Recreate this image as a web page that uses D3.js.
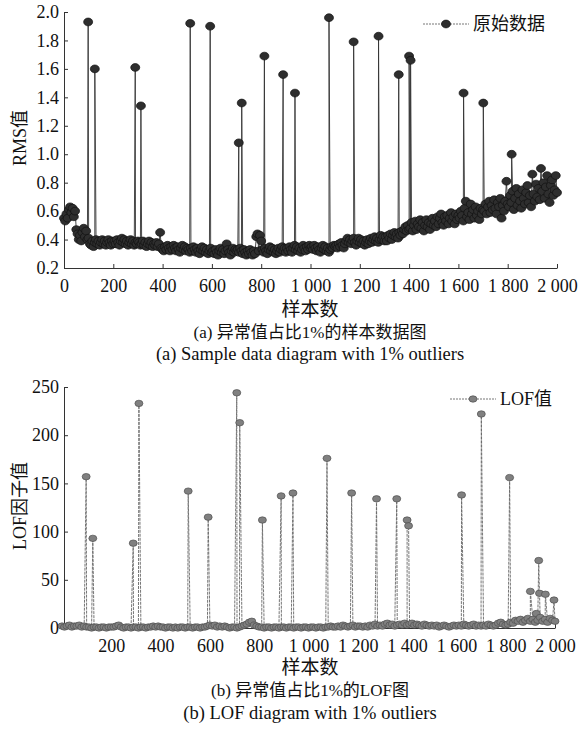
<!DOCTYPE html>
<html>
<head>
<meta charset="utf-8">
<script src="https://cdn.jsdelivr.net/npm/d3@7"></script>
<style>
  body { margin: 0; background: #fff; }
  svg { display: block; }
  text { font-family: "Liberation Serif", "Noto Sans CJK SC", serif; fill: #111; }
</style>
</head>
<body>
<svg id="chart" width="578" height="730"></svg>
<script>
// sample spacing of the base arrays
var rmsStep = 5,
    lofStep = 10;

// RMS values, one every 5 samples (0..2000), one row per 100 samples
var rmsBase = [0.55,
  0.53, 0.58, 0.55, 0.61, 0.63, 0.59, 0.62, 0.56, 0.60, 0.47, 0.44, 0.40, 0.43, 0.39, 0.45, 0.48, 0.42, 0.46, 0.40, 0.41,
  0.37, 0.36, 0.39, 0.35, 0.38, 0.40, 0.37, 0.39, 0.36, 0.38, 0.40, 0.37, 0.39, 0.36, 0.38, 0.40, 0.38, 0.36, 0.39, 0.37,
  0.39, 0.37, 0.40, 0.38, 0.36, 0.39, 0.41, 0.38, 0.40, 0.37, 0.39, 0.36, 0.38, 0.40, 0.37, 0.39, 0.36, 0.38, 0.37, 0.39,
  0.38, 0.36, 0.37, 0.39, 0.36, 0.38, 0.35, 0.37, 0.39, 0.36, 0.38, 0.35, 0.37, 0.36, 0.38, 0.35, 0.37, 0.45, 0.34, 0.33,
  0.32, 0.35, 0.33, 0.36, 0.34, 0.32, 0.35, 0.33, 0.36, 0.34, 0.32, 0.35, 0.33, 0.31, 0.34, 0.36, 0.33, 0.35, 0.32, 0.34,
  0.33, 0.31, 0.34, 0.32, 0.35, 0.33, 0.31, 0.34, 0.32, 0.30, 0.33, 0.35, 0.32, 0.34, 0.31, 0.33, 0.30, 0.32, 0.34, 0.31,
  0.32, 0.30, 0.33, 0.31, 0.29, 0.32, 0.34, 0.31, 0.33, 0.30, 0.32, 0.37, 0.33, 0.31, 0.29, 0.32, 0.34, 0.31, 0.33, 0.32,
  0.33, 0.31, 0.34, 0.32, 0.30, 0.33, 0.31, 0.29, 0.32, 0.30, 0.33, 0.31, 0.29, 0.32, 0.30, 0.42, 0.44, 0.32, 0.43, 0.39,
  0.33, 0.31, 0.34, 0.32, 0.30, 0.33, 0.35, 0.32, 0.34, 0.31, 0.33, 0.30, 0.32, 0.34, 0.31, 0.33, 0.35, 0.32, 0.34, 0.31,
  0.34, 0.32, 0.35, 0.33, 0.31, 0.34, 0.36, 0.33, 0.35, 0.32, 0.34, 0.31, 0.33, 0.36, 0.34, 0.32, 0.35, 0.33, 0.36, 0.34,
  0.35, 0.33, 0.36, 0.34, 0.32, 0.35, 0.33, 0.31, 0.34, 0.36, 0.33, 0.35, 0.32, 0.34, 0.31, 0.33, 0.35, 0.34, 0.36, 0.35,
  0.36, 0.34, 0.37, 0.35, 0.38, 0.36, 0.34, 0.37, 0.39, 0.41, 0.38, 0.40, 0.37, 0.39, 0.41, 0.38, 0.36, 0.39, 0.41, 0.38,
  0.40, 0.37, 0.39, 0.36, 0.38, 0.40, 0.37, 0.39, 0.41, 0.38, 0.40, 0.42, 0.39, 0.41, 0.38, 0.40, 0.43, 0.40, 0.42, 0.39,
  0.42, 0.39, 0.43, 0.41, 0.44, 0.40, 0.43, 0.45, 0.42, 0.44, 0.41, 0.45, 0.43, 0.46, 0.44, 0.47, 0.49, 0.46, 0.50, 0.47,
  0.48, 0.52, 0.46, 0.50, 0.53, 0.47, 0.51, 0.49, 0.54, 0.48, 0.52, 0.46, 0.50, 0.54, 0.49, 0.52, 0.47, 0.51, 0.55, 0.50,
  0.53, 0.49, 0.56, 0.51, 0.55, 0.58, 0.52, 0.50, 0.56, 0.53, 0.57, 0.51, 0.55, 0.59, 0.53, 0.56, 0.51, 0.58, 0.54, 0.57,
  0.55, 0.60, 0.57, 0.53, 0.62, 0.67, 0.56, 0.59, 0.54, 0.65, 0.58, 0.61, 0.55, 0.63, 0.57, 0.60, 0.54, 0.62, 0.58, 0.61,
  0.60, 0.65, 0.58, 0.63, 0.67, 0.59, 0.64, 0.61, 0.68, 0.62, 0.58, 0.66, 0.63, 0.69, 0.55, 0.64, 0.60, 0.67, 0.81, 0.65,
  0.63, 0.71, 0.66, 0.74, 0.61, 0.69, 0.76, 0.64, 0.72, 0.67, 0.62, 0.75, 0.69, 0.65, 0.73, 0.78, 0.66, 0.71, 0.63, 0.86,
  0.72, 0.67, 0.79, 0.70, 0.76, 0.68, 0.90, 0.74, 0.80, 0.69, 0.77, 0.85, 0.72, 0.66, 0.78, 0.82, 0.71, 0.75, 0.85, 0.73];

// LOF values, one every 10 samples (0..2000)
var lofBase = [2,
  1, 2, 3, 1, 2, 2, 3, 1, 2, 1,
  1, 0, 1, 1, 0, 1, 1, 0, 1, 1,
  1, 2, 3, 1, 0, 1, 1, 0, 1, 1,
  0, 1, 1, 0, 1, 1, 2, 1, 2, 1,
  1, 0, 1, 1, 0, 1, 0, 1, 1, 0,
  1, 1, 0, 1, 1, 0, 1, 1, 2, 3,
  2, 3, 1, 2, 1, 2, 1, 0, 1, 1,
  0, 1, 2, 3, 4, 6, 7, 3, 2, 1,
  1, 0, 1, 1, 0, 1, 1, 0, 1, 1,
  0, 1, 1, 0, 1, 1, 0, 1, 1, 0,
  1, 1, 0, 1, 1, 0, 1, 1, 2, 1,
  1, 2, 1, 3, 2, 1, 2, 3, 1, 2,
  2, 1, 2, 1, 3, 2, 4, 2, 3, 2,
  4, 5, 3, 4, 2, 3, 4, 3, 5, 3,
  4, 5, 3, 4, 3, 2, 4, 3, 2, 3,
  2, 3, 1, 2, 3, 2, 1, 2, 3, 2,
  3, 2, 4, 3, 2, 3, 4, 2, 3, 2,
  3, 2, 4, 3, 2, 3, 5, 6, 4, 3,
  4, 6, 5, 8, 7, 9, 6, 8, 10, 7,
  9, 6, 8, 11, 7, 9, 6, 10, 8, 7];

// the 20 injected outliers (1%)
var outlierSamples = [98, 125, 289, 312, 512, 593, 709, 721, 813, 889,
  937, 1075, 1175, 1276, 1358, 1400, 1406, 1621, 1701, 1816];
var rmsOutliers = [1.93, 1.60, 1.61, 1.34, 1.92, 1.90, 1.08, 1.36, 1.69, 1.56,
  1.43, 1.96, 1.79, 1.83, 1.56, 1.69, 1.66, 1.43, 1.36, 1.00];
var lofOutliers = [157, 93, 88, 233, 142, 115, 244, 213, 112, 137,
  140, 176, 140, 134, 134, 112, 106, 138, 222, 156];

// smaller LOF peaks near the end
var lofExtraSamples = [1900, 1924, 1934, 1937, 1961, 1996];
var lofExtraValues = [38, 15, 70, 36, 35, 29];

var xTicksTop = [0, 200, 400, 600, 800, 1000, 1200, 1400, 1600, 1800, 2000];
var xTicksBottom = [200, 400, 600, 800, 1000, 1200, 1400, 1600, 1800, 2000];
var rmsTicks = [0.2, 0.4, 0.6, 0.8, 1.0, 1.2, 1.4, 1.6, 1.8, 2.0];
var lofTicks = [0, 50, 100, 150, 200, 250];

var svg = d3.select("#chart");

// merge base samples with extra points, ordered by sample number
function buildSeries(base, step, xs, vs){
  var pts = base.map(function(v, i){ return {x: i * step, y: v}; });
  xs.forEach(function(x, i){ pts.push({x: x, y: vs[i]}); });
  pts.sort(function(a, b){ return a.x - b.x; });
  return pts;
}

function fmtSample(d){
  return d >= 1000 ? Math.floor(d / 1000) + " " + d3.format("03")(d % 1000) : "" + d;
}

function styleAxis(sel){
  sel.selectAll("path, line").style("stroke", "#333").style("stroke-width", 1);
  sel.selectAll("text").style("font-size", "18px")
    .style("font-family", "\"Liberation Serif\", serif").style("fill", "#111");
}

function drawPanel(opt){
  var x = d3.scaleLinear().domain([0, 2000]).range(opt.xRange),
      y = d3.scaleLinear().domain(opt.yDomain).range(opt.yRange);

  var g = svg.append("g");

  //Axes
  g.append("g")
    .attr("transform", "translate(0," + opt.yRange[0] + ")")
    .call(d3.axisBottom(x).tickValues(opt.xTicks).tickFormat(fmtSample)
      .tickSizeInner(-4).tickSizeOuter(0).tickPadding(11))
    .call(styleAxis);

  g.append("g")
    .attr("transform", "translate(" + opt.yAxisX + ",0)")
    .call(d3.axisLeft(y).tickValues(opt.yTicks).tickFormat(opt.yFormat)
      .tickSizeInner(-4).tickSizeOuter(0).tickPadding(5))
    .call(styleAxis);

  var line = d3.line()
    .x(function(d){ return x(d.x); })
    .y(function(d){ return y(d.y); });

  g.append("path")
    .datum(opt.data)
    .attr("d", line)
    .style("fill", "none")
    .style("stroke", opt.lineColor)
    .style("stroke-width", 0.9)
    .style("stroke-dasharray", opt.dash);

  g.selectAll(".dot")
    .data(opt.data)
    .enter().append("ellipse")
      .attr("class", "dot")
      .attr("cx", function(d){ return x(d.x); })
      .attr("cy", function(d){ return y(d.y); })
      .attr("rx", opt.rx)
      .attr("ry", opt.ry)
      .style("fill", opt.fill)
      .style("stroke", opt.stroke)
      .style("stroke-width", 0.7);

  //Legend
  var lg = opt.legend;
  g.append("line")
    .attr("x1", lg.x).attr("x2", lg.x + 46)
    .attr("y1", lg.y).attr("y2", lg.y)
    .style("stroke", "#666")
    .style("stroke-width", 0.9)
    .style("stroke-dasharray", "2,1");
  g.append("ellipse")
    .attr("cx", lg.x + 23).attr("cy", lg.y)
    .attr("rx", opt.rx).attr("ry", opt.ry)
    .style("fill", opt.fill)
    .style("stroke", opt.stroke)
    .style("stroke-width", 0.7);
  g.append("text")
    .attr("x", lg.x + 50)
    .attr("y", lg.y)
    .attr("dy", "0.35em")
    .style("font-size", "18px")
    .text(opt.legendText);

  //Label for Y axis
  g.append("text")
    .attr("transform", "translate(20," + opt.yLabelY + ") rotate(-90)")
    .attr("dy", "0.35em")
    .style("text-anchor", "middle")
    .style("font-size", "18px")
    .text(opt.yLabel);

  //Label for X axis and captions
  var cx = 310;
  var lines = [["样本数", 19], [opt.captionCn, 17], [opt.captionEn, 18.5]];
  lines.forEach(function(l, i){
    g.append("text")
      .attr("x", cx)
      .attr("y", opt.yRange[0] + opt.captionY[i])
      .attr("dy", "0.35em")
      .style("text-anchor", "middle")
      .style("font-size", l[1] + "px")
      .text(l[0]);
  });
}

drawPanel({
  data: buildSeries(rmsBase, rmsStep, outlierSamples, rmsOutliers),
  xRange: [64, 557], yDomain: [0.2, 2.0], yRange: [268, 12], yAxisX: 64,
  xTicks: xTicksTop, yTicks: rmsTicks, yFormat: d3.format(".1f"),
  lineColor: "#333", dash: null, fill: "#2e2e2e", stroke: "#111", rx: 4.5, ry: 3.9,
  legend: {x: 423, y: 24}, legendText: "原始数据",
  yLabel: "RMS值", yLabelY: 138,
  captionY: [41, 64, 86],
  captionCn: "(a) 异常值占比1%的样本数据图",
  captionEn: "(a) Sample data diagram with 1% outliers"
});

drawPanel({
  data: buildSeries(lofBase, lofStep, outlierSamples.concat(lofExtraSamples), lofOutliers.concat(lofExtraValues)),
  xRange: [62, 555], yDomain: [0, 250], yRange: [628, 387], yAxisX: 64,
  xTicks: xTicksBottom, yTicks: lofTicks, yFormat: d3.format("d"),
  lineColor: "#666", dash: "3,1", fill: "#808080", stroke: "#505050", rx: 4, ry: 3.2,
  legend: {x: 450, y: 399}, legendText: "LOF值",
  yLabel: "LOF因子值", yLabelY: 506,
  captionY: [39, 62, 85],
  captionCn: "(b) 异常值占比1%的LOF图",
  captionEn: "(b) LOF diagram with 1% outliers"
});
</script>
</body>
</html>
